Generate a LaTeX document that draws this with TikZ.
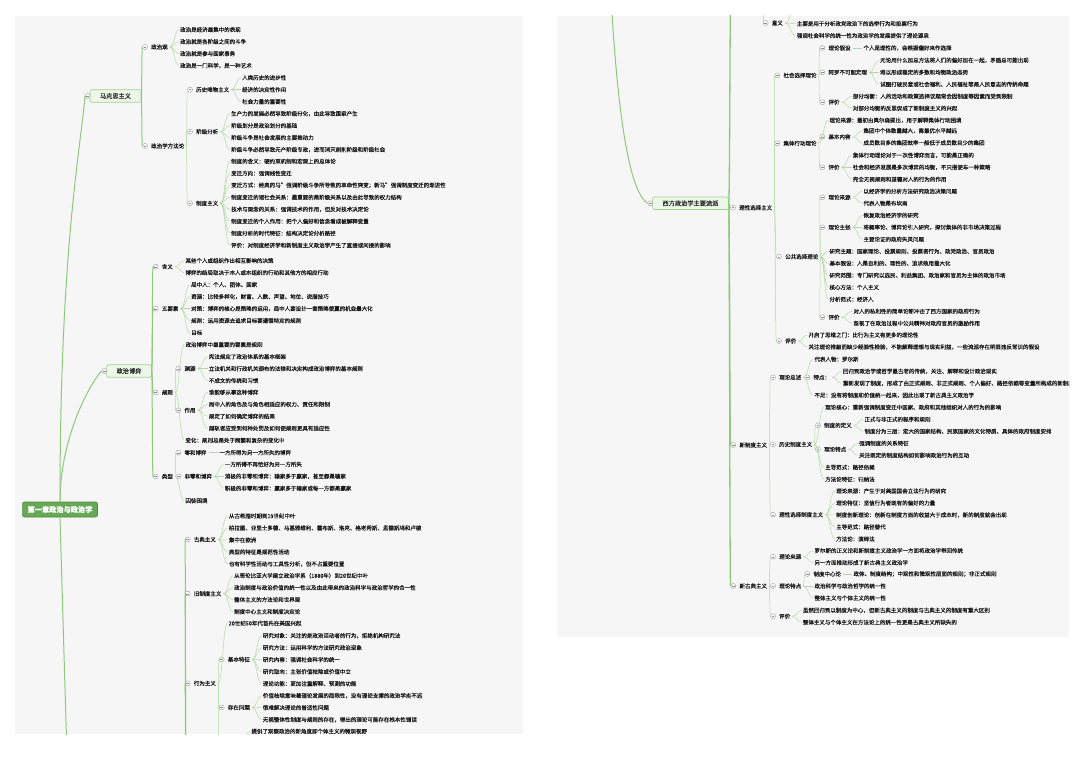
\documentclass[tikz,border=0pt]{standalone}
\usepackage{fontspec}
\newfontfamily\cjk[FakeBold=0.25]{Noto Sans CJK SC}
\usepackage{tikz}
\usetikzlibrary{calc}

\definecolor{panelgray}{HTML}{F6F6F6}
\definecolor{linkgreen}{HTML}{B2D9A5}
\definecolor{trunkgreen}{HTML}{8FC87D}
\definecolor{topicfill}{HTML}{EDF7E8}
\definecolor{topicline}{HTML}{A3D193}
\definecolor{rootfill}{HTML}{67A957}
\definecolor{rootline}{HTML}{4C8A3E}

% a branch label with its fold mark on the left
\newcommand\hubat[4]{%
  \node[hubnode] (#1) at ([xshift=-2pt]#2,#3) {#4};
  \node[foldmark] (#1-f) at ([xshift=-4pt]#1.west) {};
}
% a column of leaves, 12px apart, hung on one parent
\newcommand\leafcol[4]{%
  \foreach \leaftext [count=\k] in {#4} {
    \node[leafnode] (#1-\k) at (#2,{#3+12*(\k-1)}) {\leaftext};
    \draw[linkline] (#1.east) to (#1-\k.west);
  }%
}

\begin{document}
\begin{tikzpicture}[x=1pt, y=-1pt,
  leafnode/.style={anchor=west, inner xsep=1pt, inner ysep=0.3pt,
    font=\cjk\fontsize{5.5}{6}\selectfont, text=black!90},
  hubnode/.style={leafnode, inner xsep=2pt},
  foldmark/.style={circle, draw=black!40, line width=0.4pt, fill=white,
    minimum size=5pt, inner sep=0pt,
    path picture={\draw[black!45, line width=0.4pt]
      ([xshift=1.1pt]path picture bounding box.west) --
      ([xshift=-1.1pt]path picture bounding box.east);}},
  topicbox/.style={draw=topicline, fill=topicfill, line width=0.6pt,
    rounded corners=1.5pt, minimum height=12.5pt, inner xsep=10pt,
    font=\cjk\fontsize{6.2}{7}\selectfont, text=black!85},
  rootbox/.style={draw=rootline, fill=rootfill, line width=0.7pt,
    rounded corners=2pt, minimum height=15pt, inner xsep=5pt,
    font=\cjk\bfseries\fontsize{7.2}{8}\selectfont, text=white},
  linkline/.style={draw=linkgreen, line width=0.5pt,
    to path={let \p1=(\tikztostart), \p2=(\tikztotarget) in
      .. controls ({(\x1+\x2)/2},\y1) and ({(\x1+\x2)/2},\y2) .. (\tikztotarget)}},
  trunkline/.style={linkline, draw=trunkgreen, line width=1pt},
  panelbg/.style={fill=panelgray}
]
\useasboundingbox (0,0) rectangle (1080,757);
\fill[white] (0,0) rectangle (1080,757);
\fill[panelbg] (15,16) rectangle (523,734);
\fill[panelbg] (557,16) rectangle (1069,637);

% ---------------- left sheet ----------------
\begin{scope}
\clip (15,16) rectangle (523,734);

\node[rootbox] (root) at (60,509.5) {第一章政治与政治学};
\coordinate (root-dn) at (68,790);

% 马克思主义
\node[topicbox] (mks) at (115.5,96) {马克思主义};
\node[foldmark] (mks-f) at ([xshift=-2pt]mks.west) {};
\hubat{zzg}{151}{47}{政治观}
\leafcol{zzg}{179}{29.7}{%
  政治是经济最集中的表现,%
  政治就是各阶级之间的斗争,%
  政治就是参与国家事务,%
  政治是一门科学，是一种艺术}
\hubat{ffl}{151}{146}{政治学方法论}
\hubat{lswu}{196}{89.7}{历史唯物主义}
\leafcol{lswu}{241}{77.7}{%
  人类历史的进步性,%
  经济的决定性作用,%
  社会力量的重要性}
\hubat{jjfx}{196}{131.7}{阶级分析}
\leafcol{jjfx}{230}{113.7}{%
  生产力的发展必然导致阶级分化，由此导致国家产生,%
  阶级划分是政治划分的基础,%
  阶级斗争是社会发展的主要推动力,%
  阶级斗争必然导致无产阶级专政，进而消灭剥削阶级和阶级社会}
\hubat{zdzy}{196}{203.3}{制度主义}
\leafcol{zdzy}{230}{161.3}{%
  制度的含义：硬约束机制和宏观上的总体论,%
  变迁方向：强调线性变迁,%
  变迁方式：经典的马”强调阶级斗争所导致的革命性突变；新马”强调制度变迁的渐进性,%
  制度变迁的诸社会关系：最重要的是阶级关系以及由此导致的权力结构,%
  技术与观念的关系：强调技术的作用，但反对技术决定论,%
  制度变迁的个人作用：把个人偏好和信念看成被解释变量,%
  制度分析的时代特征：结构决定论分析路径,%
  评价：对制度经济学和新制度主义政治学产生了直接或间接的影响}

\draw[trunkline] (root.north) .. controls +(0,-252) and +(-4.5,54) .. (mks-f.west);
\draw[trunkline] (mks.east) to (zzg-f.west);
\draw[trunkline] (mks.east) to (ffl-f.west);
\draw[linkline] (ffl.east) to (lswu-f.west);
\draw[linkline] (ffl.east) to (jjfx-f.west);
\draw[linkline] (ffl.east) to (zdzy-f.west);

% 政治博弈
\node[topicbox] (bo) at (129,371) {政治博弈};
\node[foldmark] (bo-f) at ([xshift=-2pt]bo.west) {};
\hubat{hy}{161.7}{266.7}{含义}
\leafcol{hy}{184.3}{260.7}{%
  某些个人或组织作出相互影响的决策,%
  博弈的结局取决于本人或本组织的行动和其他方的相应行动}
\hubat{wys}{161.7}{308.7}{五要素}
\leafcol{wys}{190}{284.7}{%
  局中人：个人、团体、国家,%
  资源：比较多样化，财富、人数、声望、地位、说服技巧,%
  对策：博弈的核心是策略的运用，局中人要设计一套策略使赢的机会最大化,%
  规则：运用资源去追求目标要遵循特定的规则,%
  目标}
\hubat{gz}{161.7}{392.5}{规则}
\node[leafnode] (gz-a) at (184.3,344.7) {政治博弈中最重要的要素是规则};
\hubat{yy}{184.3}{368.7}{渊源}
\leafcol{yy}{207.7}{356.7}{%
  宪法规定了政治体系的基本框架,%
  立法机关和行政机关颁布的法律和决定构成政治博弈的基本规则,%
  不成文的传统和习惯}
\hubat{zy}{184.3}{410.3}{作用}
\leafcol{zy}{207.7}{392.3}{%
  谁能够从事这种博弈,%
  局中人的角色及与角色相适应的权力、责任和限制,%
  规定了如何确定博弈的结果,%
  越轨者应受到何种处罚及如何使规则更具有适应性}
\node[leafnode] (gz-b) at (184.3,440.3) {变化：规则总是处于频繁和复杂的变化中};
\hubat{lx}{161.7}{476.5}{类型}
\hubat{lh}{184.3}{452.7}{零和博弈}
\node[leafnode] (lh-1) at (218.3,452.7) {一方所得为另一方所失的博弈};
\hubat{flh}{184.3}{476.3}{非零和博弈}
\leafcol{flh}{223.7}{464.3}{%
  一方所得不再恰好为另一方所失,%
  消极的非零和博弈：输家多于赢家，甚至都是输家,%
  积极的非零和博弈：赢家多于输家或每一方都是赢家}
\node[leafnode] (lx-c) at (184.3,500.7) {囚徒困境};

\draw[trunkline] (root.north) .. controls +(0,-62) and +(-13,14) .. (bo-f.west);
\draw[trunkline] (bo.east) to (hy-f.west);
\draw[trunkline] (bo.east) to (wys-f.west);
\draw[trunkline] (bo.east) to (gz-f.west);
\draw[trunkline] (bo.east) to (lx-f.west);
\draw[linkline] (gz.east) to (gz-a.west);
\draw[linkline] (gz.east) to (yy-f.west);
\draw[linkline] (gz.east) to (zy-f.west);
\draw[linkline] (gz.east) to (gz-b.west);
\draw[linkline] (lx.east) to (lh-f.west);
\draw[linkline] (lx.east) to (flh-f.west);
\draw[linkline] (lx.east) to (lx-c.west);
\draw[linkline] (lh.east) to (lh-1.west);

\draw[trunkline] (root.south) -- (root-dn);

% 西方政治学主要流派 (upper part)
\coordinate (xfpl-low) at (186,790);
\hubat{gdzy}{193.7}{539.5}{古典主义}
\leafcol{gdzy}{227.7}{516}{%
  从古希腊时期到19世纪中叶,%
  柏拉图、亚里士多德、马基雅维利、霍布斯、洛克、格老秀斯、孟德斯鸠和卢梭,%
  集中在欧洲,%
  典型的特征是规范性活动,%
  也有科学性活动与工具性分析，但不占重要位置}
\hubat{jzd}{193.7}{593.7}{旧制度主义}
\leafcol{jzd}{233}{575.7}{%
  从哥伦比亚大学建立政治学系（1880年）到20世纪中叶,%
  政治制度与政治价值的统一性以及由此带来的政治科学与政治哲学的合一性,%
  整体主义的方法论和世界观,%
  制度中心主义和制度决定论}
\hubat{xwzy}{193.7}{683.3}{行为主义}
\node[leafnode] (xwzy-a) at (227.5,623.3) {20世纪50年代首先在美国兴起};
\hubat{jbtz}{227.7}{659.5}{基本特征}
\leafcol{jbtz}{261.7}{635.7}{%
  研究对象：关注的是政治活动者的行为，拒绝机构研究法,%
  研究方法：运用科学的方法研究政治现象,%
  研究内容：强调社会科学的统一,%
  研究取向：主张价值祛除或价值中立,%
  理论功能：更加注重解释、预测的功能}
\hubat{czwt}{227.7}{707.5}{存在问题}
\leafcol{czwt}{261.7}{695.7}{%
  价值祛除意味着理论发展的局限性，没有理论支撑的政治学走不远,%
  很难解决理论的普适性问题,%
  无视整体性制度与规则的存在，得出的理论可能存在根本性错误}
\coordinate (xwpj-f) at (219,743.3);
\coordinate (xwpj) at (240,743.3);
\node[leafnode] (xwpj-1) at (250.3,731.3) {提供了观察政治的新角度即个体主义的微观视野};

\draw[trunkline] (xfpl-low) to (gdzy-f.west);
\draw[trunkline] (xfpl-low) to (jzd-f.west);
\draw[trunkline] (xfpl-low) to (xwzy-f.west);
\draw[linkline] (xwzy.east) to (xwzy-a.west);
\draw[linkline] (xwzy.east) to (jbtz-f.west);
\draw[linkline] (xwzy.east) to (czwt-f.west);
\draw[linkline] (xwzy.east) to (xwpj-f);
\draw[linkline] (xwpj) to (xwpj-1.west);
\end{scope}

% ---------------- right sheet ----------------
\begin{scope}
\clip (557,16) rectangle (1069,637);

\coordinate (xfpl-src) at (611,-5);
\coordinate (xfpl-up) at (731,-20);
\node[topicbox] (xfpl) at (690.5,203.3) {西方政治学主要流派};
\node[foldmark] (xfpl-f) at ([xshift=-2pt]xfpl.west) {};
\draw[trunkline] (xfpl-src) .. controls +(5,95) and +(-21,-13) .. (xfpl-f.west);
\draw[trunkline, line width=1.3pt] (xfpl.east) to (xfpl-up);

% 行为主义 (continued)
\coordinate (xwzy-up) at (765,-20);
\hubat{yiyi}{771.7}{23}{意义}
\coordinate (yiyi-0) at (794,11.7);
\leafcol{yiyi}{795.7}{23.7}{%
  主要是用于分析政党政治下的选举行为和投票行为,%
  强调社会科学的统一性为政治学的发展提供了理论源泉}
\draw[linkline] (xwzy-up) to (yiyi-f.west);
\draw[linkline] (yiyi.east) to (yiyi-0);

% 理性选择主义
\hubat{lxxz}{739}{207.7}{理性选择主义}
\hubat{shxz}{783.3}{75.3}{社会选择理论}
\hubat{lljs}{828.3}{48}{理论假设}
\node[leafnode] (lljs-1) at (862.3,48) {个人是理性的，会根据偏好来作选择};
\hubat{albk}{828.3}{72.3}{阿罗不可能定理}
\leafcol{albk}{879}{60.3}{%
  无论用什么加总方法将人们的偏好加在一起，矛盾总可能出现,%
  难以形成稳定的多数和均衡政治态势,%
  试图打破民意或社会福利、人民福祉等是人民意志的传统命题}
\hubat{shpj}{828.3}{102.2}{评价}
\leafcol{shpj}{851.7}{96.3}{%
  部分均衡：人的活动和政策选择议题常会因制度等因素而受到限制,%
  对部分均衡的反思促成了新制度主义的兴起}

\hubat{jtxd}{783.3}{143.3}{集体行动理论}
\node[leafnode] (jtxd-a) at (828.3,120.3) {理论来源：最初由奥尔森提出，用于解释集体行动困境};
\hubat{jbnr}{828.3}{136.8}{基本内容}
\leafcol{jbnr}{862.3}{130.8}{%
  集团中个体数量越大，离最优水平越远,%
  成员数目多的集团效率一般低于成员数目少的集团}
\hubat{jtpj}{828.3}{167.3}{评价}
\leafcol{jtpj}{851.7}{155.3}{%
  集体行动理论对于一次性博弈而言，可能是正确的,%
  社会和经济发展是多次博弈的均衡，不只搭便车一种策略,%
  完全无视规则和道德对人的行为的作用}

\hubat{ggxz}{785}{256.7}{公共选择理论}
\hubat{ggly}{828.3}{197.3}{理论来源}
\leafcol{ggly}{862.3}{191.3}{%
  以经济学的分析方法研究政治决策问题,%
  代表人物是布坎南}
\hubat{ggzz}{828.3}{227.3}{理论主张}
\leafcol{ggzz}{862.3}{215.3}{%
  恢复政治经济学的研究,%
  将概率论、博弈论引入研究，探讨集体的非市场决策过程,%
  主要论证的政府失灵问题}
\leafcol{ggxz}{828.3}{251.3}{%
  研究主题：国家理论、投票规则、投票者行为、政党政治、官员政治,%
  基本假设：人是自利的、理性的、追求效用最大化,%
  研究范围：专门研究以选民、利益集团、政治家和官员为主体的政治市场,%
  核心方法：个人主义,%
  分析范式：经济人}
\hubat{ggpj}{828.3}{317.3}{评价}
\leafcol{ggpj}{852.3}{311.3}{%
  对人的私利性的简单论断冲击了西方国家的政府行为,%
  忽视了在政治过程中公共精神对政府官员的激励作用}

\hubat{lxpj}{785}{341}{评价}
\leafcol{lxpj}{807.3}{335}{%
  开启了思维之门：比行为主义有更多的理论性,%
  关注理论推敲而缺少经验性检验，不能解释理想与现实利益，一些流派存在明显违反常识的假设}

\draw[trunkline] (xfpl.east) to (lxxz-f.west);
\draw[linkline] (lxxz.east) to (shxz-f.west);
\draw[linkline] (lxxz.east) to (jtxd-f.west);
\draw[linkline] (lxxz.east) to (ggxz-f.west);
\draw[linkline] (lxxz.east) to (lxpj-f.west);
\draw[linkline] (shxz.east) to (lljs-f.west);
\draw[linkline] (shxz.east) to (albk-f.west);
\draw[linkline] (shxz.east) to (shpj-f.west);
\draw[linkline] (lljs.east) to (lljs-1.west);
\draw[linkline] (jtxd.east) to (jtxd-a.west);
\draw[linkline] (jtxd.east) to (jbnr-f.west);
\draw[linkline] (jtxd.east) to (jtpj-f.west);
\draw[linkline] (ggxz.east) to (ggly-f.west);
\draw[linkline] (ggxz.east) to (ggzz-f.west);
\draw[linkline] (ggxz.east) to (ggpj-f.west);

% 新制度主义
\hubat{xzd}{739.3}{445}{新制度主义}
\hubat{llzs}{779}{377.3}{理论总述}
\node[leafnode] (llzs-a) at (813.3,359.3) {代表人物：罗尔斯};
\hubat{tedian}{813.3}{377.3}{特点：}
\leafcol{tedian}{841.7}{371.3}{%
  回归到政治学或哲学最古老的传统，关注、解释和设计政治现实,%
  重新发现了制度，形成了由正式规则、非正式规则、个人偏好、路径依赖等变量所构成的新制度}
\node[leafnode] (llzs-b) at (813.3,395.3) {不足：没有将制度和价值统一起来，因此出现了新古典主义政治学};
\hubat{lszd}{779}{444.3}{历史制度主义}
\node[leafnode] (lszd-a) at (824,407.3) {理论核心：重新强调制度变迁中国家、政府和其他组织对人的行为的影响};
\hubat{zddy}{824}{425.3}{制度的定义}
\leafcol{zddy}{863.3}{419.3}{%
  正式与非正式的程序和规则,%
  制度分为三层：宏大的国家结构、民族国家的文化特质、具体的政府制度安排}
\hubat{lltd}{824}{449.3}{理论特点}
\leafcol{lltd}{858}{443.3}{%
  强调制度的关系特征,%
  关注既定的制度结构如何影响政治行为的互动}
\node[leafnode] (lszd-b) at (824,467.3) {主导范式：路径依赖};
\node[leafnode] (lszd-c) at (824,479.3) {方法论特征：归纳法};
\hubat{lxzd}{779}{514.7}{理性选择制度主义}
\leafcol{lxzd}{835}{491}{%
  理论来源：产生于对美国国会立法行为的研究,%
  理论特征：坚信行为者既有的偏好的力量,%
  制度创新理论：创新在制度方面的收益大于成本时，新的制度就会出现,%
  主导范式：路径替代,%
  方法论：演绎法}

\draw[trunkline, line width=1.3pt] (xfpl.east) to (xzd-f.west);
\draw[linkline] (xzd.east) to (llzs-f.west);
\draw[linkline] (xzd.east) to (lszd-f.west);
\draw[linkline] (xzd.east) to (lxzd-f.west);
\draw[linkline] (llzs.east) to (llzs-a.west);
\draw[linkline] (llzs.east) to (tedian-f.west);
\draw[linkline] (llzs.east) to (llzs-b.west);
\draw[linkline] (lszd.east) to (lszd-a.west);
\draw[linkline] (lszd.east) to (zddy-f.west);
\draw[linkline] (lszd.east) to (lltd-f.west);
\draw[linkline] (lszd.east) to (lszd-b.west);
\draw[linkline] (lszd.east) to (lszd-c.west);

% 新古典主义
\hubat{xgd}{739.3}{586}{新古典主义}
\hubat{gdly}{779}{556.7}{理论来源}
\leafcol{gdly}{813.3}{550.7}{%
  罗尔斯的正义论和新制度主义政治学一方面将政治学带回传统,%
  另一方面推动形成了新古典主义政治学}
\hubat{gdtd}{779}{586}{理论特点}
\hubat{zdzx}{813.3}{574}{制度中心论}
\node[leafnode] (zdzx-1) at (852.3,574) {政体、制度结构；中观性和微观性层面的规则；非正式规则};
\node[leafnode] (gdtd-a) at (813.3,586) {政治科学与政治哲学的统一性};
\node[leafnode] (gdtd-b) at (813.3,598) {整体主义与个体主义的统一性};
\hubat{gdpj}{779}{616.3}{评价}
\leafcol{gdpj}{801.7}{610.3}{%
  虽然回归到以制度为中心，但新古典主义的制度与古典主义的制度有重大区别,%
  整体主义与个体主义在方法论上的统一性更是古典主义所缺失的}

\draw[trunkline, line width=1.3pt] (xfpl.east) to (xgd-f.west);
\draw[linkline] (xgd.east) to (gdly-f.west);
\draw[linkline] (xgd.east) to (gdtd-f.west);
\draw[linkline] (xgd.east) to (gdpj-f.west);
\draw[linkline] (gdtd.east) to (zdzx-f.west);
\draw[linkline] (gdtd.east) to (gdtd-a.west);
\draw[linkline] (gdtd.east) to (gdtd-b.west);
\draw[linkline] (zdzx.east) to (zdzx-1.west);
\end{scope}
\end{tikzpicture}
\end{document}
